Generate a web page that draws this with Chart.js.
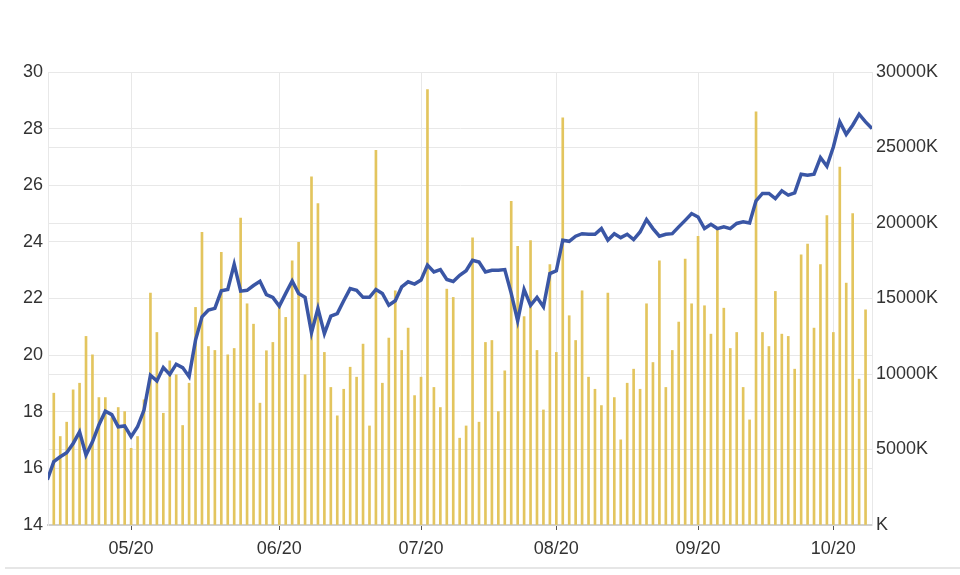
<!DOCTYPE html>
<html>
<head>
<meta charset="utf-8">
<script src="https://cdn.jsdelivr.net/npm/chart.js@4"></script>
<style>
  body { margin: 0; background: #fff; }
  .wrap { position: relative; width: 960px; height: 575px; }
  .sep { position: absolute; left: 5px; right: 0; top: 567px; height: 2px; background: #e6e6e6; }
</style>
</head>
<body>
<div class="wrap">
  <canvas id="priceChart" width="960" height="575"></canvas>
  <div class="sep"></div>
</div>
<script>
// months shown on the x axis and how many trading bars fall in each
const monthLabels = ["04/20", "05/20", "06/20", "07/20", "08/20", "09/20", "10/20"];
const barsPerMonth = [12, 23, 22, 21, 22, 21, 6];

// closing price (left axis); first and last value sit just past the plot edges
const price = [
  15.6,
  16.24, 16.41, 16.55, 16.88, 17.29, 16.47, 16.94, 17.53, 18.02, 17.9,
  17.47, 17.5, 17.12, 17.47, 18.06, 19.29, 19.09, 19.56, 19.32, 19.68,
  19.56, 19.24, 20.53, 21.35, 21.59, 21.65, 22.27, 22.32, 23.21, 22.26,
  22.29, 22.46, 22.61, 22.14, 22.04, 21.73, 22.18, 22.62, 22.18, 22.04,
  20.79, 21.65, 20.76, 21.38, 21.47, 21.92, 22.35, 22.29, 22.04, 22.04,
  22.32, 22.18, 21.76, 21.92, 22.41, 22.59, 22.51, 22.65, 23.18, 22.94,
  23.02, 22.67, 22.6, 22.82, 22.98, 23.35, 23.29, 22.94, 23.0, 23.0,
  23.02, 22.18, 21.21, 22.32, 21.76, 22.04, 21.71, 22.88, 22.98, 24.06,
  24.02, 24.2, 24.29, 24.27, 24.27, 24.47, 24.06, 24.29, 24.15, 24.27,
  24.08, 24.35, 24.79, 24.47, 24.2, 24.27, 24.29, 24.53, 24.76, 25.0,
  24.88, 24.47, 24.62, 24.47, 24.53, 24.47, 24.65, 24.71, 24.67, 25.45,
  25.71, 25.71, 25.53, 25.8, 25.65, 25.73, 26.39, 26.35, 26.39, 26.98,
  26.67, 27.35, 28.24, 27.8, 28.12, 28.51, 28.24,
  28.0
];

// volume in thousands (right axis), one per trading day
const volume = [
  8730, 5860, 6810, 8950, 9390, 12490, 11270, 8440, 8440, 7100,
  7780, 7510, 5080, 5860, 8290, 15360, 12750, 7400, 10870, 9950,
  6590, 9390, 14410, 19380, 11820, 11560, 18060, 11270, 11690, 20330,
  14650, 13300, 8070, 11540, 12090, 14410, 13750, 17500, 18720, 9950,
  23050, 21280, 11430, 9110, 7230, 8990, 10450, 9790, 11980, 6560,
  24820, 9390, 12380, 15510, 11560, 13040, 8570, 9790, 28840, 9110,
  7780, 15620, 15070, 5750, 6560, 19010, 6810, 12090, 12220, 7510,
  10210, 21440, 18450, 13800, 18830, 11560, 7620, 17240, 11430, 26960,
  13860, 12220, 15510, 9790, 8990, 7910, 15360, 8440, 5640, 9390,
  10320, 8990, 14650, 10760, 17500, 9110, 11560, 13440, 17610, 14650,
  19120, 14520, 12640, 19560, 14360, 11690, 12750, 9110, 6960, 27360,
  12750, 11820, 15470, 12640, 12490, 10320, 17900, 18610, 13040, 17240,
  20490, 12750, 23710, 16020, 20620, 9660, 14250
];

const leftTicks = [14, 30, 2];
const rightTicks = [0, 30000, 5000];

// index of the first bar of every month after the first one
const monthStarts = [];
let acc = 0;
barsPerMonth.forEach((n, i) => {
  if (i > 0) monthStarts.push(acc);
  acc += n;
});

const volPoints = volume.map((v, i) => ({ x: i, y: v }));
const pricePoints = price.map((v, i) => ({ x: i - 1, y: v }));

const font = { family: "'Liberation Sans', Arial, sans-serif", size: 18 };
const gridColor = "#e8e8e8";

const ctx = document.getElementById("priceChart");

new Chart(ctx, {
  type: "bar",
  data: {
    datasets: [
      {
        type: "line",
        data: pricePoints,
        yAxisID: "y",
        borderColor: "#3a56a5",
        borderWidth: 3.5,
        pointRadius: 0,
        tension: 0,
        order: 0
      },
      {
        type: "bar",
        data: volPoints,
        yAxisID: "y1",
        backgroundColor: "#e3c55e",
        barThickness: 2,
        order: 1
      }
    ]
  },
  options: {
    responsive: false,
    animation: false,
    layout: { padding: { top: 72, left: 0, right: 0, bottom: 0 } },
    plugins: {
      legend: { display: false },
      tooltip: { enabled: false }
    },
    scales: {
      x: {
        type: "linear",
        min: -0.9,
        max: volume.length,
        offset: false,
        afterBuildTicks: scale => {
          scale.ticks = monthStarts.map(v => ({ value: v }));
        },
        afterFit: scale => { scale.height = 50; },
        grid: {
          offset: false,
          color: gridColor,
          tickColor: "#555",
          tickLength: 5,
          drawTicks: true
        },
        border: { color: "#cfcfcf", width: 2 },
        ticks: {
          font: font,
          color: "#333",
          padding: 8,
          maxRotation: 0,
          autoSkip: false,
          callback: value => monthLabels[monthStarts.indexOf(value) + 1]
        }
      },
      y: {
        position: "left",
        min: leftTicks[0],
        max: leftTicks[1],
        afterFit: scale => { scale.width = 48; },
        grid: { color: gridColor, drawTicks: false },
        border: { color: gridColor },
        ticks: {
          stepSize: leftTicks[2],
          font: font,
          color: "#333",
          padding: 5
        }
      },
      y1: {
        position: "right",
        min: rightTicks[0],
        max: rightTicks[1],
        afterFit: scale => { scale.width = 88; },
        grid: { color: gridColor, drawTicks: false },
        border: { color: gridColor },
        ticks: {
          stepSize: rightTicks[2],
          font: font,
          color: "#333",
          padding: 4,
          callback: value => (value === 0 ? "" : value) + "K"
        }
      }
    }
  }
});
</script>
</body>
</html>
